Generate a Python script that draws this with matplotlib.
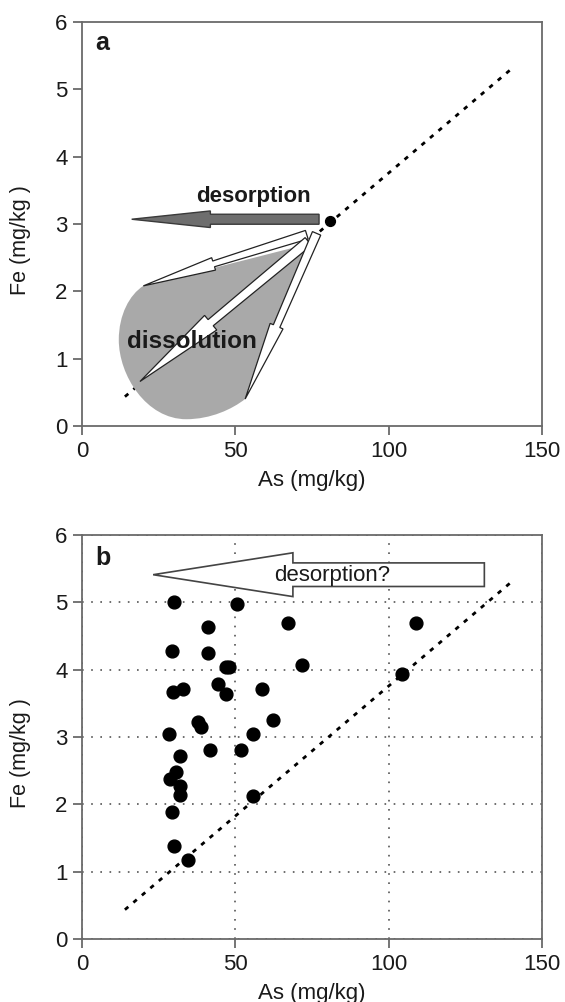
import matplotlib.pyplot as plt
import numpy as np
from matplotlib.patches import Polygon, PathPatch
from matplotlib.path import Path

plt.rcParams['font.family'] = ['Liberation Sans', 'DejaVu Sans']

# panel b samples (As, Fe in mg/kg)
as_b = [29.9, 50.5, 67.3, 108.8, 41.0, 29.2, 41.0, 71.9, 46.9, 47.8, 104.3, 44.4, 29.8, 33.0, 46.9, 58.8,
        37.8, 38.7, 62.3, 28.4, 55.7, 41.6, 52.0, 32.1, 30.6, 28.7, 32.0, 32.1, 55.7, 29.2, 29.9, 34.7]
fe_b = [5.00, 4.97, 4.70, 4.70, 4.64, 4.27, 4.24, 4.07, 4.04, 4.04, 3.94, 3.78, 3.67, 3.71, 3.64, 3.71,
        3.22, 3.15, 3.25, 3.04, 3.04, 2.81, 2.81, 2.71, 2.48, 2.38, 2.27, 2.14, 2.12, 1.88, 1.38, 1.18]

# panel a single point
as_a = [81.0]
fe_a = [3.05]

# reference line
line_x = [14.0, 141.0]
line_y = [0.435, 5.34]

xticks = [0, 50, 100, 150]
yticks = [0, 1, 2, 3, 4, 5, 6]


def arrow_poly(ax, tail, tip, w_tail, w_neck, w_head, frac, **kw):
    # arrow shape built in pixel space so widths stay in pixels
    T = ax.transData
    p0 = T.transform(tail)
    p1 = T.transform(tip)
    d = p1 - p0
    u = d / np.hypot(*d)
    n = np.array([-u[1], u[0]])
    b = p0 + d * frac
    pts = [p0 + n * w_tail, b + n * w_neck, b + n * w_head, p1,
           b - n * w_head, b - n * w_neck, p0 - n * w_tail]
    ax.add_patch(Polygon(T.inverted().transform(pts), closed=True, **kw))


def style(ax, grid=False):
    ax.set_xlim(0, 150)
    ax.set_ylim(0, 6)
    ax.set_xticks(xticks)
    ax.set_yticks(yticks)
    for s in ax.spines.values():
        s.set_color('#6a6a6a')
        s.set_linewidth(1.3)
    ax.tick_params(direction='out', length=6.5, width=1.3, color='#6a6a6a',
                   labelsize=16, labelcolor='#1a1a1a', pad=4)
    ax.set_xlabel('As (mg/kg)', fontsize=16, color='#1a1a1a')
    ax.set_ylabel('Fe (mg/kg )', fontsize=15.5, color='#1a1a1a')
    ax.xaxis.set_label_coords(0.5, -0.108)
    ax.yaxis.set_label_coords(-0.110, 0.46)
    if grid:
        ax.grid(True, linestyle=(0, (1, 4.5)), color='#555555', linewidth=1.2)
        ax.set_axisbelow(True)


fig = plt.figure(figsize=(5.65, 10.02), dpi=100)
ax1 = fig.add_axes([0.1451, 0.5749, 0.8142, 0.4032])
ax2 = fig.add_axes([0.1451, 0.0629, 0.8142, 0.4032])
style(ax1)
style(ax2, grid=True)

# ---- panel a
ax1.plot(line_x, line_y, color='black', lw=2, linestyle=(0, (1.6, 2.4)), zorder=1)

verts = [(20.0, 2.08),
         (15.5, 1.95), (12.0, 1.65), (12.0, 1.28),
         (12.0, 0.75), (21.0, 0.10), (34.0, 0.10),
         (42.0, 0.10), (49.0, 0.25), (53.2, 0.40),
         (73.5, 2.70),
         (20.0, 2.08)]
codes = [Path.MOVETO] + [Path.CURVE4] * 9 + [Path.LINETO, Path.CLOSEPOLY]
ax1.add_patch(PathPatch(Path(verts, codes), facecolor='#a9a9a9', edgecolor='none', zorder=2))

wk = dict(facecolor='white', edgecolor='#222222', lw=0.9, zorder=3)
arrow_poly(ax1, (73.3, 2.84), (20.0, 2.08), 4.5, 3, 6.5, 0.57, **wk)
arrow_poly(ax1, (73.8, 2.74), (18.9, 0.66), 5, 4, 9.5, 0.58, **wk)
arrow_poly(ax1, (76.5, 2.86), (53.2, 0.40), 4.5, 3.5, 7, 0.56, **wk)

arrow_poly(ax1, (77.3, 3.07), (16.2, 3.07), 5, 5, 8.3, 0.58,
           facecolor='#6e6e6e', edgecolor='#3a3a3a', lw=1.0, zorder=3)

ax1.scatter(as_a, fe_a, s=50, color='black', zorder=4)
ax1.text(55.8, 3.41, 'desorption', fontsize=16, fontweight='bold', ha='center', va='center',
         color='#1a1a1a', zorder=5)
ax1.text(35.8, 1.25, 'dissolution', fontsize=17.5, fontweight='bold', ha='center', va='center',
         color='#1a1a1a', zorder=5)
ax1.text(6.6, 5.68, 'a', fontsize=18, fontweight='bold', ha='center', va='center', color='#1a1a1a')

# ---- panel b
ax2.plot(line_x, line_y, color='black', lw=2, linestyle=(0, (1.6, 2.4)), zorder=2)
ax2.scatter(as_b, fe_b, s=85, color='black', zorder=3)
arrow_poly(ax2, (131.2, 5.41), (23.2, 5.41), 11.8, 11.8, 21.9, 0.578,
           facecolor='white', edgecolor='#444444', lw=1.2, zorder=4)
ax2.text(81.5, 5.40, 'desorption?', fontsize=16, ha='center', va='center', color='#1a1a1a', zorder=5)
ax2.text(6.9, 5.66, 'b', fontsize=18, fontweight='bold', ha='center', va='center', color='#1a1a1a')

fig.savefig('out.png', dpi=100)
